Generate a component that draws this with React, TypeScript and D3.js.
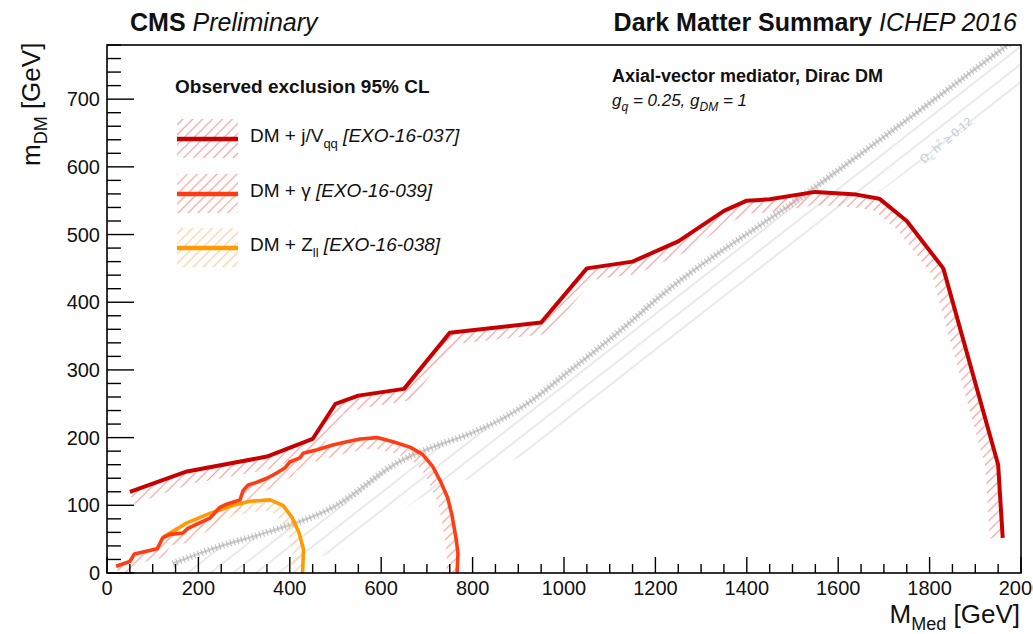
import React from "react";
import * as d3 from "d3";

// ---------------- data ----------------
const xMajorTicks = [0, 200, 400, 600, 800, 1000, 1200, 1400, 1600, 1800, 2000];
const yMajorTicks = [0, 100, 200, 300, 400, 500, 600, 700];

// DM + j/V_qq  (M_med, m_DM)
const jetMed = [50, 175, 350, 450, 500, 550, 650, 750, 950, 1050, 1150, 1250, 1350, 1400, 1450, 1550, 1640, 1690, 1750, 1830, 1950, 1960];
const jetDM = [120, 150, 172, 198, 250, 262, 272, 355, 370, 450, 460, 490, 535, 550, 552, 563, 559, 553, 520, 450, 160, 52];

// DM + gamma
const gamMed = [20, 50, 60, 110, 122, 138, 166, 177, 225, 247, 263, 291, 298, 309, 328, 350, 372, 389, 400, 422, 429, 460, 494, 525, 554, 591, 626, 663, 691, 713, 730, 745, 755, 764, 768, 766];
const gamDM = [10, 17, 28, 36, 52, 57, 59, 66, 81, 97, 102, 108, 122, 130, 134, 140, 148, 155, 164, 170, 177, 182, 189, 194, 198, 200, 194, 186, 175, 157, 135, 112, 85, 50, 29, 0];

// DM + Z_ll
const zMed = [123, 175, 225, 276, 313, 357, 385, 405, 420, 430, 428];
const zDM = [53, 74, 88, 100, 106, 108, 100, 82, 60, 35, 0];

// relic density line  Omega_c h^2 = 0.12
const relicMed = [144, 250, 350, 495, 641, 713, 788, 860, 932, 1007, 1079, 1151, 1195, 1516, 1663, 1990];
const relicDM = [14, 40, 60, 97, 165, 186, 204, 226, 256, 296, 334, 374, 400, 554, 626, 790];

// ---------------- layout ----------------
const W = 1033;
const H = 634;
const L = 107, R = 1021, T = 45, B = 573;
const FONT = "'Liberation Sans', Arial, Helvetica, sans-serif";

const x = d3.scaleLinear().domain([0, 2000]).range([L, R]);
const y = d3.scaleLinear().domain([0, 780]).range([B, T]);

type P = [number, number];
const toPix = (ms: number[], ds: number[]): P[] => ms.map((m, i) => [x(m), y(ds[i])]);

const lineGen = d3.line<P>().x((d) => d[0]).y((d) => d[1]);
const smoothGen = d3.line<P>().x((d) => d[0]).y((d) => d[1]).curve(d3.curveMonotoneX);

// band on the right-hand side of the polyline (excluded side)
function bandPath(pts: P[], w: number): string {
  const n = pts.length;
  const segN: P[] = [];
  for (let i = 0; i < n - 1; i++) {
    const dx = pts[i + 1][0] - pts[i][0];
    const dy = pts[i + 1][1] - pts[i][1];
    const len = Math.hypot(dx, dy) || 1;
    segN.push([-dy / len, dx / len]);
  }
  const off: P[] = pts.map((p, i) => {
    let nx = 0, ny = 0;
    if (i > 0) { nx += segN[i - 1][0]; ny += segN[i - 1][1]; }
    if (i < n - 1) { nx += segN[i][0]; ny += segN[i][1]; }
    const len = Math.hypot(nx, ny) || 1;
    return [p[0] + (w * nx) / len, p[1] + (w * ny) / len];
  });
  const all = pts.concat(off.slice().reverse());
  return lineGen(all) + "Z";
}

const jetPts = toPix(jetMed, jetDM);
const gamPts = toPix(gamMed, gamDM);
const zPts = toPix(zMed, zDM);
const relicPts = toPix(relicMed, relicDM);

const COL_JET = "#c80000";
const COL_GAM = "#ff3c14";
const COL_Z = "#ff9a00";

function HatchPattern({ id, color, size, angle, width }: { id: string; color: string; size: number; angle: number; width: number }) {
  return (
    <pattern id={id} patternUnits="userSpaceOnUse" width={size} height={size} patternTransform={`rotate(${angle})`}>
      <line x1={size / 2} y1={0} x2={size / 2} y2={size} stroke={color} strokeWidth={width} />
    </pattern>
  );
}

export default function App() {
  const xMinor = d3.range(0, 2001, 50).filter((v) => v % 200 !== 0);
  const yMinor = d3.range(0, 781, 20).filter((v) => v % 100 !== 0);

  const legend = [
    { col: COL_JET, hatch: "url(#hJet)", y: 139, main: "DM + j/V", sub: "qq", ref: "[EXO-16-037]" },
    { col: COL_GAM, hatch: "url(#hGam)", y: 194, main: "DM + \u03B3", sub: "", ref: "[EXO-16-039]" },
    { col: COL_Z, hatch: "url(#hZ)", y: 248, main: "DM + Z", sub: "ll", ref: "[EXO-16-038]" },
  ];

  return (
    <svg width={W} height={H} style={{ position: "absolute", left: 0, top: 0, background: "#ffffff" }} fontFamily={FONT}>
      <defs>
        <HatchPattern id="hJet" color="#f2a3a3" size={7} angle={45} width={1.3} />
        <HatchPattern id="hGam" color="#f7aaa0" size={7} angle={45} width={1.3} />
        <HatchPattern id="hZ" color="#fcd0a2" size={7} angle={45} width={1.3} />
        <HatchPattern id="hRelic" color="#d9d9d9" size={14} angle={52} width={1.1} />
        <clipPath id="frameClip">
          <rect x={L} y={T} width={R - L} height={B - T} />
        </clipPath>
        <clipPath id="relicClip">
          <path d={bandPath(relicPts, 42)} />
        </clipPath>
      </defs>

      <rect x={0} y={0} width={W} height={H} fill="#ffffff" />

      <g clipPath="url(#frameClip)">
        {/* relic hatch */}
        <rect x={L} y={T} width={R - L} height={B - T} fill="url(#hRelic)" clipPath="url(#relicClip)" />
        {/* relic line */}
        <path d={smoothGen(relicPts) || ""} fill="none" stroke="#d0d0d0" strokeWidth={2.5} />
        <path d={smoothGen(relicPts) || ""} fill="none" stroke="#adadad" strokeWidth={7} strokeDasharray="1.2 2.6" opacity={0.7} />

        {/* exclusion hatches */}
        <path d={bandPath(zPts, 11)} fill="url(#hZ)" />
        <path d={bandPath(gamPts, 11)} fill="url(#hGam)" />
        <path d={bandPath(jetPts, 13)} fill="url(#hJet)" />

        {/* exclusion lines */}
        <path d={lineGen(zPts) || ""} fill="none" stroke={COL_Z} strokeWidth={3.6} strokeLinejoin="round" />
        <path d={lineGen(gamPts) || ""} fill="none" stroke={COL_GAM} strokeWidth={3.6} strokeLinejoin="round" />
        <path d={lineGen(jetPts) || ""} fill="none" stroke={COL_JET} strokeWidth={4} strokeLinejoin="round" />
      </g>

      {/* relic label */}
      <text transform={`translate(924,164) rotate(-40)`} fontSize={12} fill="#c3cad6">
        {"\u03A9"}
        <tspan fontSize={8} dy={3}>c</tspan>
        <tspan dy={-3}> h</tspan>
        <tspan fontSize={8} dy={-5}>2</tspan>
        <tspan dy={5}>{" \u2265 0.12"}</tspan>
      </text>

      {/* frame */}
      <rect x={L} y={T} width={R - L} height={B - T} fill="none" stroke="#000" strokeWidth={1.6} />

      {/* x ticks */}
      {xMajorTicks.map((v) => (
        <line key={"xM" + v} x1={x(v)} x2={x(v)} y1={B} y2={B - 16} stroke="#000" strokeWidth={1.4} />
      ))}
      {xMinor.map((v) => (
        <line key={"xm" + v} x1={x(v)} x2={x(v)} y1={B} y2={B - 9} stroke="#000" strokeWidth={1.4} />
      ))}
      {xMajorTicks.map((v) => (
        <text key={"xl" + v} x={x(v)} y={595} fontSize={20} textAnchor="middle" fill="#111">
          {v}
        </text>
      ))}

      {/* y ticks */}
      {yMajorTicks.map((v) => (
        <line key={"yM" + v} x1={L} x2={L + 27} y1={y(v)} y2={y(v)} stroke="#000" strokeWidth={1.4} />
      ))}
      {yMinor.map((v) => (
        <line key={"ym" + v} x1={L} x2={L + 14} y1={y(v)} y2={y(v)} stroke="#000" strokeWidth={1.4} />
      ))}
      {yMajorTicks.map((v) => (
        <text key={"yl" + v} x={100} y={y(v) + 7} fontSize={20} textAnchor="end" fill="#111">
          {v}
        </text>
      ))}

      {/* axis titles */}
      <text x={1020} y={623} fontSize={26} textAnchor="end" fill="#111">
        M<tspan fontSize={18} dy={7}>Med</tspan>
        <tspan dy={-7}> [GeV]</tspan>
      </text>
      <text transform="translate(40,166) rotate(-90)" fontSize={26} textAnchor="start" fill="#111">
        m<tspan fontSize={18} dy={7}>DM</tspan>
        <tspan dy={-7}> [GeV]</tspan>
      </text>

      {/* header */}
      <text x={130} y={31} fontSize={25} fill="#111">
        <tspan fontWeight="bold">CMS</tspan>
        <tspan fontStyle="italic"> Preliminary</tspan>
      </text>
      <text x={1017} y={31} fontSize={25} fill="#111" textAnchor="end">
        <tspan fontWeight="bold">Dark Matter Summary</tspan>
        <tspan fontStyle="italic"> ICHEP 2016</tspan>
      </text>

      {/* model annotation */}
      <text x={612} y={82} fontSize={18} fontWeight="bold" fill="#111">
        Axial-vector mediator, Dirac DM
      </text>
      <text x={612} y={106} fontSize={17} fontStyle="italic" fill="#111">
        g<tspan fontSize={12} dy={5}>q</tspan>
        <tspan dy={-5}> = 0.25, g</tspan>
        <tspan fontSize={12} dy={5}>DM</tspan>
        <tspan dy={-5}> = 1</tspan>
      </text>

      {/* legend */}
      <text x={175} y={93} fontSize={19} fontWeight="bold" fill="#111">
        Observed exclusion 95% CL
      </text>
      {legend.map((e) => (
        <g key={e.ref}>
          <rect x={177} y={e.y - 20} width={61} height={39} fill={e.hatch} />
          <line x1={177} x2={238} y1={e.y} y2={e.y} stroke={e.col} strokeWidth={4.5} />
          <text x={250} y={e.y + 3} fontSize={19} fill="#111">
            {e.main}
            {e.sub ? (
              <>
                <tspan fontSize={13} dy={6}>{e.sub}</tspan>
                <tspan dy={-6} fontStyle="italic">{" " + e.ref}</tspan>
              </>
            ) : (
              <tspan fontStyle="italic">{" " + e.ref}</tspan>
            )}
          </text>
        </g>
      ))}
    </svg>
  );
}
